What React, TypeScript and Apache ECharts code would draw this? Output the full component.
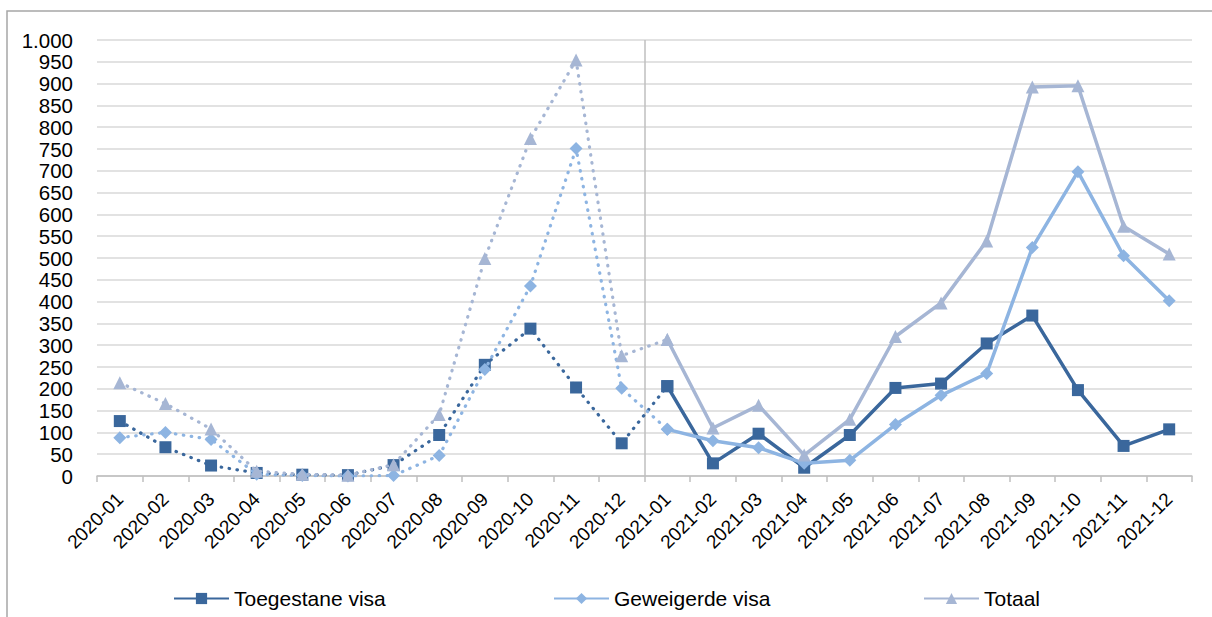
import React, { useEffect, useRef } from "react";
import * as echarts from "echarts";

const categories = [
  "2020-01", "2020-02", "2020-03", "2020-04", "2020-05", "2020-06",
  "2020-07", "2020-08", "2020-09", "2020-10", "2020-11", "2020-12",
  "2021-01", "2021-02", "2021-03", "2021-04", "2021-05", "2021-06",
  "2021-07", "2021-08", "2021-09", "2021-10", "2021-11", "2021-12",
];
const toegestane = [126, 66, 24, 7, 3, 2, 25, 94, 255, 338, 203, 75, 206, 29, 97, 19, 94, 202, 212, 304, 368, 197, 69, 107];
const geweigerde = [88, 100, 84, 4, 1, 0, 1, 47, 244, 436, 751, 201, 107, 81, 65, 29, 36, 118, 185, 235, 524, 698, 505, 402];
const totaal = [214, 166, 108, 11, 4, 2, 26, 141, 499, 774, 954, 276, 313, 110, 162, 48, 130, 320, 397, 539, 892, 895, 573, 509];
const seriesNames = ["Toegestane visa", "Geweigerde visa", "Totaal"];
const splitIndex = 12; // first month of 2021

const FONT = "Liberation Sans, Arial, sans-serif";
const colors = ["#3A679C", "#8DB4E2", "#A6B6D4"];
const symbols = ["rect", "diamond", "triangle"];
const symbolSizes = [12, 13, 13];

export default function App() {
  const ref = useRef<HTMLDivElement>(null);
  useEffect(() => {
    document.body.style.margin = "0";
    const chart = echarts.init(ref.current!, null, { renderer: "svg" });
    const allData = [toegestane, geweigerde, totaal];
    const series: any[] = [];
    // year-boundary line, on a hidden value x-axis spanning the category bands
    series.push({
      name: "__divider",
      type: "line",
      xAxisIndex: 1,
      data: [[splitIndex, 0]],
      symbol: "none",
      lineStyle: { width: 0 },
      silent: true,
      z: 1,
      markLine: {
        silent: true,
        symbol: "none",
        label: { show: false },
        lineStyle: { color: "#BFBFBF", width: 1.5, type: "solid" },
        data: [{ xAxis: splitIndex }],
        z: 1,
      },
    });
    allData.forEach((d, i) => {
      const dotted = d.map((v, j) => (j <= splitIndex ? v : null));
      const solid = d.map((v, j) => (j >= splitIndex ? v : null));
      series.push({
        name: seriesNames[i] + " 2020",
        type: "line",
        data: dotted,
        symbol: symbols[i],
        symbolSize: symbolSizes[i],
        showAllSymbol: true,
        color: colors[i],
        itemStyle: { color: colors[i] },
        lineStyle: { color: colors[i], width: 3.2, type: [0.5, 7.5], cap: "round" },
        z: 2 + i,
      });
      series.push({
        name: seriesNames[i],
        type: "line",
        data: solid,
        symbol: symbols[i],
        symbolSize: symbolSizes[i],
        showAllSymbol: true,
        color: colors[i],
        itemStyle: { color: colors[i] },
        lineStyle: { color: colors[i], width: 3.5 },
        z: 2 + i,
      });
    });
    const legendLefts = [173, 553, 923];
    chart.setOption({
      animation: false,
      grid: { left: 97, right: 20, top: 40, bottom: 141 },
      graphic: [
        {
          type: "rect",
          shape: { x: 7, y: 11, width: 1400, height: 800 },
          style: { fill: "none", stroke: "#A6A6A6", lineWidth: 1.5 },
          silent: true,
        },
      ],
      legend: seriesNames.map((n, i) => ({
        data: [n],
        left: legendLefts[i],
        top: 588,
        padding: 0,
        itemWidth: 55,
        itemHeight: 14,
        itemGap: 4,
        selectedMode: false,
        textStyle: { fontFamily: FONT, fontSize: 21, color: "#000" },
      })),
      xAxis: [
        {
          type: "category",
          data: categories,
          boundaryGap: true,
          axisLine: { show: true, lineStyle: { color: "#BFBFBF", width: 1.5 } },
          axisTick: { show: true, length: 6, lineStyle: { color: "#BFBFBF", width: 1.5 }, interval: 0 },
          axisLabel: {
            interval: 0,
            rotate: 45,
            fontFamily: FONT,
            fontSize: 19,
            color: "#000",
            margin: 20,
          },
          splitLine: { show: false },
        },
        {
          type: "value",
          min: 0,
          max: categories.length,
          show: false,
          splitLine: { show: false },
        },
      ],
      yAxis: {
        type: "value",
        min: 0,
        max: 1000,
        interval: 50,
        axisLine: { show: false },
        axisTick: { show: false },
        axisLabel: {
          fontFamily: FONT,
          fontSize: 20.5,
          color: "#000",
          margin: 24,
          formatter: (v: number) => v.toLocaleString("de-DE"),
        },
        splitLine: { lineStyle: { color: "#D9D9D9", width: 1.5 } },
      },
      series,
    });
    return () => chart.dispose();
  }, []);
  return <div ref={ref} style={{ width: 1212, height: 617 }} />;
}
